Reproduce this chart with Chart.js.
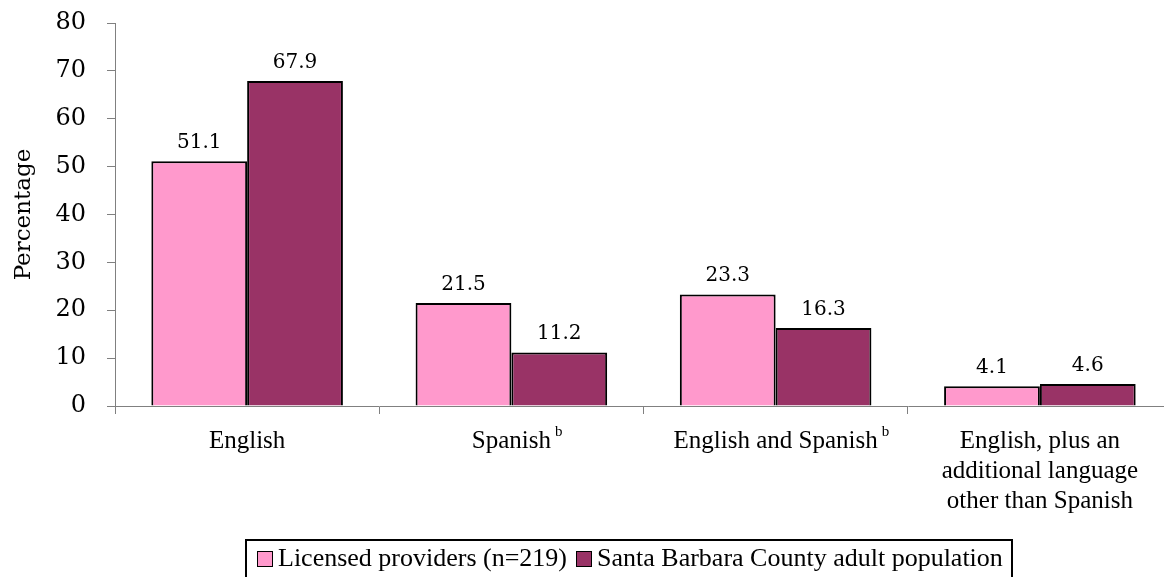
<!DOCTYPE html>
<html>
<head>
<meta charset="utf-8">
<script src="https://cdn.jsdelivr.net/npm/chart.js@4/dist/chart.umd.min.js"></script>
<style>
  html, body { margin: 0; padding: 0; background: #fff; }
  #wrap { position: relative; width: 1164px; height: 577px; overflow: hidden; }
  #chart { position: absolute; left: 0; top: 0; }
  #legend {
    position: absolute; left: 245px; top: 539px; width: 768px; height: 50px;
    border: 2px solid #000; box-sizing: border-box;
    font-family: "Liberation Serif", serif; font-size: 26px; color: #000;
    white-space: nowrap; padding: 2px 0 0 10px;
  }
  #legend span.sw {
    display: inline-block; width: 14px; height: 14px; border: 1.5px solid #000;
    margin-right: 5px; vertical-align: -1px;
  }
  #legend span.item { margin-right: 9px; }
</style>
</head>
<body>
<div id="wrap">
  <canvas id="chart" width="1180" height="577"></canvas>
  <div id="legend"></div>
</div>
<script>
var categories = [
  "English",
  "Spanish",
  "English and Spanish",
  ["English, plus an", "additional language", "other than Spanish"]
];
var superscripts = ["", "b", "b", ""];
var licensedProviders = [51.1, 21.5, 23.3, 4.1];
var countyAdults = [67.9, 11.2, 16.3, 4.6];
var seriesNames = ["Licensed providers (n=219)", "Santa Barbara County adult population"];
var seriesColors = ["#FF99CC", "#993366"];
var yTicks = [0, 10, 20, 30, 40, 50, 60, 70, 80];

var axisGrey = "#808080";
var catFont = { family: "'Liberation Serif', serif", size: 25 };

// values above the bars + superscript marks after category labels
var extras = {
  id: "extras",
  afterDatasetsDraw: function(chart) {
    var ctx = chart.ctx;
    ctx.save();
    ctx.fillStyle = "#000";
    ctx.font = "20px 'DejaVu Serif', serif";
    ctx.textAlign = "center";
    ctx.textBaseline = "alphabetic";
    chart.data.datasets.forEach(function(ds, di) {
      chart.getDatasetMeta(di).data.forEach(function(bar, i) {
        ctx.fillText(ds.data[i].toFixed(1), bar.x, bar.y - 13);
      });
    });
    var xs = chart.scales.x;
    superscripts.forEach(function(s, i) {
      if (!s) return;
      var lbl = categories[i];
      ctx.font = catFont.size + "px " + catFont.family;
      var w = ctx.measureText(lbl).width;
      var x = xs.getPixelForValue(i) + w / 2 + 4;
      ctx.font = "15px 'Liberation Serif', serif";
      ctx.textAlign = "left";
      ctx.textBaseline = "top";
      ctx.fillText(s, x, xs.top + 8 + 11);
    });
    ctx.restore();
  }
};

var chart = new Chart(document.getElementById("chart"), {
  type: "bar",
  data: {
    labels: categories,
    datasets: [
      { label: seriesNames[0], data: licensedProviders, backgroundColor: seriesColors[0],
        borderColor: "#000", borderWidth: 2 },
      { label: seriesNames[1], data: countyAdults, backgroundColor: seriesColors[1],
        borderColor: "#000", borderWidth: 2 }
    ]
  },
  options: {
    responsive: false,
    animation: false,
    layout: { padding: { top: 23, right: 8, left: 0, bottom: 0 } },
    datasets: { bar: { categoryPercentage: 0.725, barPercentage: 1.0 } },
    plugins: { legend: { display: false }, tooltip: { enabled: false } },
    scales: {
      x: {
        grid: { offset: true, drawOnChartArea: false, drawTicks: true, tickLength: 8, color: axisGrey },
        border: { display: true, color: axisGrey, width: 1 },
        ticks: { color: "#000", font: catFont, padding: 12, maxRotation: 0, autoSkip: false },
        afterFit: function(s) { s.height = 171; s.paddingLeft = 0; s.paddingRight = 0; }
      },
      y: {
        min: 0, max: 80,
        afterBuildTicks: function(s) { s.ticks = yTicks.map(function(v) { return { value: v }; }); },
        grid: { drawOnChartArea: false, drawTicks: true, tickLength: 8, color: axisGrey },
        border: { display: true, color: axisGrey, width: 1 },
        ticks: { color: "#000", font: { family: "'DejaVu Serif', serif", size: 24 }, padding: 21 },
        title: { display: true, text: "Percentage", color: "#000",
                 font: { family: "'DejaVu Serif', serif", size: 23 }, padding: { top: 10, bottom: 0 } },
        afterFit: function(s) { s.width = 115; s.paddingTop = 0; s.paddingBottom = 0; }
      }
    }
  },
  plugins: [extras]
});

var legend = document.getElementById("legend");
chart.data.datasets.forEach(function(ds) {
  var item = document.createElement("span");
  item.className = "item";
  var sw = document.createElement("span");
  sw.className = "sw";
  sw.style.background = ds.backgroundColor;
  item.appendChild(sw);
  item.appendChild(document.createTextNode(ds.label));
  legend.appendChild(item);
});
</script>
</body>
</html>
